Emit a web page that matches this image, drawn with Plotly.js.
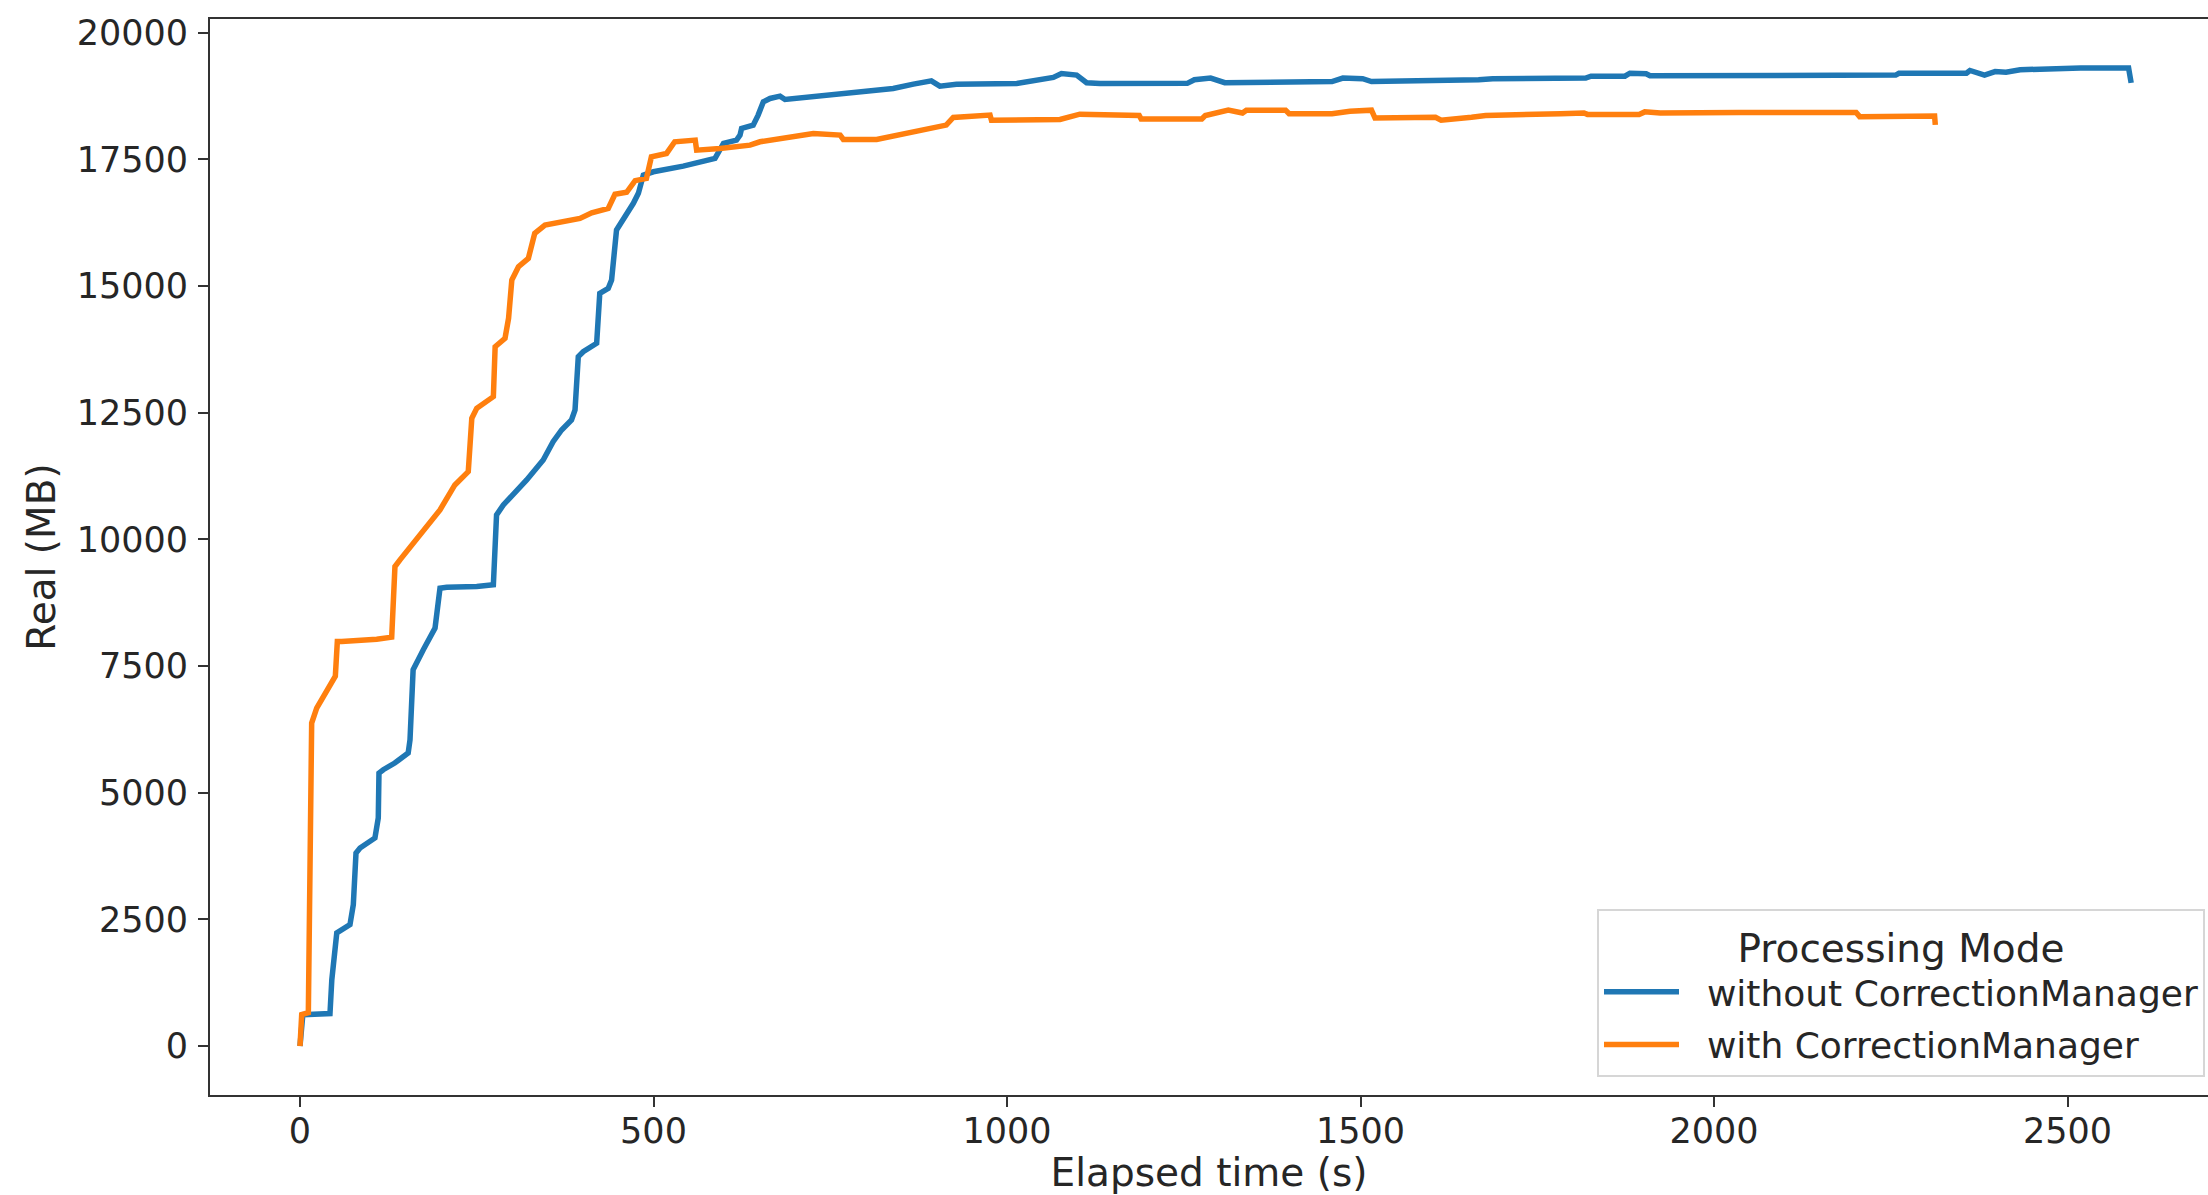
<!DOCTYPE html>
<html>
<head>
<meta charset="utf-8">
<script src="https://cdn.plot.ly/plotly-3.0.1.min.js"></script>
<style>
  html, body { margin: 0; padding: 0; background: #ffffff; }
  #chart { width: 2208px; height: 1195px; }
</style>
</head>
<body>
<div id="chart"></div>
<script>
// ---- Data ----
const seriesNames = ["without CorrectionManager", "with CorrectionManager"];
const legendTitle = "Processing Mode";
const xAxisTitle = "Elapsed time (s)";
const yAxisTitle = "Real (MB)";

const xTickVals = [0, 500, 1000, 1500, 2000, 2500];
const xTickText = ["0", "500", "1000", "1500", "2000", "2500"];
const yTickVals = [0, 2500, 5000, 7500, 10000, 12500, 15000, 17500, 20000];
const yTickText = ["0", "2500", "5000", "7500", "10000", "12500", "15000", "17500", "20000"];

// without CorrectionManager (blue)
const timeWithout = [0, 2, 4, 11.8, 42.4, 45, 52, 70.7, 75.4, 79.2, 84.9, 106, 110.7, 111.7, 117.8, 134, 153, 155.6, 160, 174.4, 191, 198, 207.5, 250, 273.5, 278, 287.6, 320.6, 344, 358, 370, 384, 389, 393.6, 400.6, 419.6, 424, 436, 440.7, 447.7, 455, 459.6, 471.5, 478.6, 485.6, 499.8, 542, 587, 594, 599, 617.4, 622.4, 624.6, 641, 648, 655.4, 664.8, 679, 686, 731, 792, 839, 867.6, 893, 905, 928.5, 1013.7, 1037, 1065.5, 1077, 1098.5, 1112.6, 1131.5, 1255, 1265, 1288, 1298, 1308, 1459.7, 1475, 1503, 1515.5, 1667, 1687, 1818.6, 1826, 1874, 1881, 1904, 1909.5, 2257, 2261.6, 2357, 2362, 2382.6, 2397.6, 2413, 2433, 2518.5, 2586.4, 2590];
const memWithout = [0, 400, 620, 625, 641, 1312, 2233, 2396, 2791, 3811, 3909, 4107, 4501, 5389, 5454, 5586, 5783, 6045, 7426, 7821, 8248, 9037, 9057, 9069, 9103, 10483, 10680, 11174, 11568, 11929, 12160, 12357, 12554, 13606, 13704, 13870, 14856, 14954, 15118, 16105, 16260, 16400, 16632, 16829, 17190, 17255, 17367, 17519, 17682, 17814, 17880, 17979, 18110, 18176, 18373, 18635, 18702, 18747, 18682, 18747, 18813, 18899, 18984, 19049, 18945, 18980, 18998, 19063, 19116, 19195, 19162, 19011, 18995, 19000, 19071, 19105, 19071, 19014, 19036, 19105, 19091, 19036, 19071, 19091, 19105, 19142, 19142, 19200, 19190, 19150, 19163, 19199, 19199, 19254, 19164, 19233, 19221, 19268, 19304, 19304, 19010];

// with CorrectionManager (orange)
const timeWith = [0, 1, 2.4, 11.8, 16.5, 23.6, 33, 47, 50, 52.8, 59, 108.5, 129.7, 134.3, 141.4, 198, 205, 219, 238, 243, 250, 273.5, 276, 290, 295, 299.6, 309, 323, 332, 346.5, 396, 412.6, 436, 445.5, 462, 474, 490, 497, 518.5, 530, 559, 561, 594, 636.5, 650.6, 679, 726, 764, 768.5, 815.6, 848.7, 896, 914, 924, 976, 978, 1075, 1103, 1131.5, 1187, 1189.7, 1275.5, 1280.5, 1293, 1313, 1333, 1338.6, 1394, 1399, 1459.7, 1485, 1515.5, 1520.5, 1606, 1614, 1657, 1677, 1783, 1816, 1821, 1894, 1902, 1924, 2035, 2201, 2206, 2312, 2313];
const memWith = [0, 300, 620, 660, 6375, 6670, 6900, 7230, 7300, 7985, 7985, 8030, 8070, 9464, 9596, 10582, 10745, 11075, 11337, 12390, 12587, 12817, 13803, 13968, 14363, 15118, 15381, 15546, 16040, 16203, 16335, 16446, 16532, 16810, 16850, 17080, 17124, 17550, 17617, 17847, 17880, 17682, 17715, 17781, 17847, 17913, 18012, 17979, 17893, 17893, 17979, 18110, 18176, 18327, 18373, 18274, 18287, 18392, 18380, 18365, 18296, 18296, 18365, 18414, 18471, 18414, 18471, 18471, 18400, 18400, 18451, 18471, 18315, 18331, 18274, 18331, 18365, 18400, 18414, 18387, 18387, 18437, 18415, 18426, 18426, 18343, 18357, 18180];

const colors = ["#1f77b4", "#ff7f0e"];

// ---- Chart ----
const font = "DejaVu Sans, Liberation Sans, sans-serif";
const textColor = "#262626";
const axisColor = "#333333";
const pad = "\u00a0\u00a0";

const traces = [
  {
    x: timeWithout, y: memWithout, type: "scatter", mode: "lines",
    name: pad + seriesNames[0], legendgroup: "a",
    line: { color: colors[0], width: 5.5, shape: "linear" }
  },
  {
    x: timeWith, y: memWith, type: "scatter", mode: "lines",
    name: pad + seriesNames[1], legendgroup: "b",
    line: { color: colors[1], width: 5.5, shape: "linear" }
  }
];

const layout = {
  width: 2208,
  height: 1195,
  margin: { l: 210, r: 0, t: 19, b: 100, pad: 0 },
  paper_bgcolor: "#ffffff",
  plot_bgcolor: "#ffffff",
  font: { family: font, size: 35, color: textColor },
  showlegend: true,
  xaxis: {
    range: [-127.3, 2698.7],
    autorange: false,
    tickmode: "array",
    tickvals: xTickVals,
    ticktext: xTickText,
    ticks: "outside",
    ticklen: 10,
    tickwidth: 2,
    tickcolor: axisColor,
    ticklabelstandoff: -6,
    showline: true,
    linecolor: axisColor,
    linewidth: 2,
    mirror: true,
    showgrid: false,
    zeroline: false,
    automargin: false,
    tickfont: { family: font, size: 35, color: textColor },
    title: { text: xAxisTitle, font: { family: font, size: 39, color: textColor }, standoff: 26 }
  },
  yaxis: {
    range: [-965, 20270],
    autorange: false,
    tickmode: "array",
    tickvals: yTickVals,
    ticktext: yTickText,
    ticks: "outside",
    ticklen: 10,
    tickwidth: 2,
    tickcolor: axisColor,
    ticklabelstandoff: 3,
    showline: true,
    linecolor: axisColor,
    linewidth: 2,
    mirror: false,
    showgrid: false,
    zeroline: false,
    automargin: false,
    tickfont: { family: font, size: 35, color: textColor },
    title: { text: yAxisTitle, font: { family: font, size: 39, color: textColor }, standoff: 9 }
  },
  legend: {
    x: 0.9985,
    xanchor: "right",
    y: 0.0167,
    yanchor: "bottom",
    bgcolor: "rgba(255,255,255,0.85)",
    bordercolor: "#d6d6d6",
    borderwidth: 2,
    traceorder: "grouped",
    tracegroupgap: 3,
    itemwidth: 75,
    font: { family: font, size: 36, color: textColor },
    title: { text: legendTitle, side: "top center", font: { family: font, size: 39, color: textColor } }
  }
};

Plotly.newPlot("chart", traces, layout, { staticPlot: true, displayModeBar: false });
</script>
</body>
</html>
